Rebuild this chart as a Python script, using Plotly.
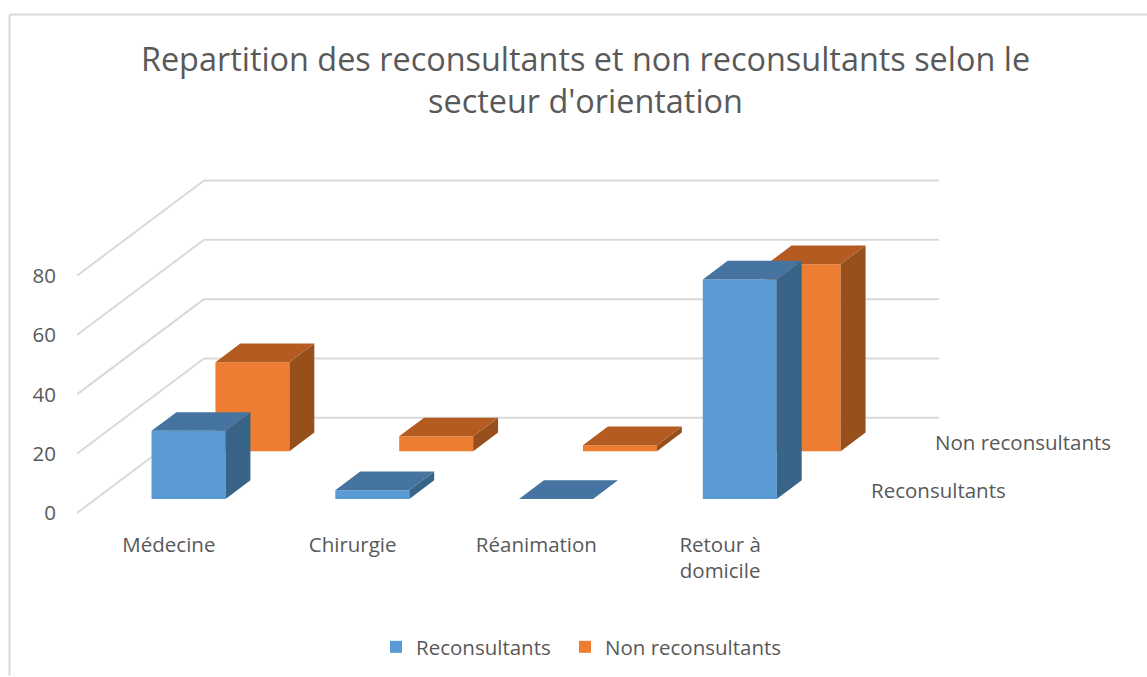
import plotly.graph_objects as go

# --- data ---
categories = ["Médecine", "Chirurgie", "Réanimation", "Retour à<br>domicile"]
reconsultants = [23, 3, 0, 74]
non_reconsultants = [30, 5, 2, 63]
value_ticks = [0, 20, 40, 60, 80]
series_names = ["Reconsultants", "Non reconsultants"]
title_text = "Repartition des reconsultants et non reconsultants selon le<br>secteur d'orientation"

# --- oblique 3D projection expressed in axis units ---
W, H = 1147, 677
L, R, T, B = 77, 960, 170, 525          # plot area in pixels
ZERO_PX = 514                            # pixel row of value 0 on the front edge
PX_CAT = 183.75                          # pixels per category
PX_VAL = 2.975                           # pixels per value unit
DEPTH_X = 127 / PX_CAT                   # full floor depth in category units
DEPTH_Y = 95.5 / PX_VAL                  # full floor depth in value units
BAR_W = 74 / PX_CAT
BAR_D = 0.196                            # bar depth as a fraction of floor depth
BAR_NUDGE = 1 / PX_CAT
ROW_FRONT = {"blue": 0.147, "orange": 0.65}
X0 = -0.5
X1 = 3.5
FONT = "Open Sans"
TXT = "#595959"
GRID = "#D9D9D9"
BLUE = ("#5B9BD5", "#386488", "#44749F")
ORANGE = ("#ED7D31", "#974F1C", "#B35B20")
LABEL_SIZE = 20.5

cat_idx = list(range(len(categories)))


def project(x, d, v):
    return x + d * DEPTH_X, v + d * DEPTH_Y


def polys(values, front, face):
    xs, ys = [], []
    for i, v in zip(cat_idx, values):
        a, b = i + BAR_NUDGE - BAR_W / 2, i + BAR_NUDGE + BAR_W / 2
        d0, d1 = front, front + BAR_D
        if face == "side":
            corners = [(b, d0, 0), (b, d1, 0), (b, d1, v), (b, d0, v)]
        else:
            corners = [(a, d0, v), (b, d0, v), (b, d1, v), (a, d1, v)]
        for x, d, val in corners + corners[:1]:
            px, py = project(x, d, val)
            xs.append(px)
            ys.append(py)
        xs.append(None)
        ys.append(None)
    return xs, ys


fig = go.Figure()

for name, values, colors, key, leg in [
    (series_names[1], non_reconsultants, ORANGE, "orange", "legend2"),
    (series_names[0], reconsultants, BLUE, "blue", "legend"),
]:
    front = ROW_FRONT[key]
    fig.add_trace(go.Bar(
        x=[i + BAR_NUDGE + front * DEPTH_X for i in cat_idx],
        y=values,
        base=[front * DEPTH_Y] * len(values),
        width=BAR_W,
        name=name,
        legend=leg,
        showlegend=True,
        marker=dict(color=colors[0], line=dict(width=0)),
        hoverinfo="skip",
    ))

for values, colors, key in [
    (non_reconsultants, ORANGE, "orange"),
    (reconsultants, BLUE, "blue"),
]:
    for face, col in [("side", colors[1]), ("top", colors[2])]:
        xs, ys = polys(values, ROW_FRONT[key], face)
        fig.add_trace(go.Scatter(
            x=xs, y=ys, mode="lines", fill="toself", fillcolor=col,
            line=dict(width=0, color=col), showlegend=False, hoverinfo="skip",
        ))

# gridlines on the side and back walls
shapes = []
for v in value_ticks:
    bx, by = project(X0, 1, v)
    ex, _ = project(X1, 1, v)
    line = dict(color=GRID, width=2)
    shapes.append(dict(type="line", xref="x", yref="y", x0=X0, y0=v, x1=bx, y1=by,
                       line=line, layer="below"))
    shapes.append(dict(type="line", xref="x", yref="y", x0=bx, y0=by, x1=ex, y1=by,
                       line=line, layer="below"))

# outer chart frame, open on the right and at the bottom
pw, ph = R - L, B - T
fx = (9.5 - L) / pw
fy = (B - 14) / ph
fr = (W - L) / pw
fb = (B - H) / ph
for x0, y0, x1, y1 in [(fx, fy, fr, fy), (fx, fy, fx, fb)]:
    shapes.append(dict(type="line", xref="paper", yref="paper", x0=x0, y0=y0, x1=x1, y1=y1,
                       line=dict(color=GRID, width=2), layer="below"))

# depth-axis labels
annotations = []
for name, key in [(series_names[0], "blue"), (series_names[1], "orange")]:
    d = ROW_FRONT[key] + BAR_D / 2
    x, y = project(X1 + 26 / PX_CAT, d, 0)
    annotations.append(dict(x=x, y=y, xref="x", yref="y", text=name, showarrow=False,
                            xanchor="left", yanchor="middle",
                            font=dict(family=FONT, size=LABEL_SIZE, color=TXT)))

legend_common = dict(orientation="h", xanchor="left", y=(B - 647) / ph, yanchor="middle",
                     font=dict(family=FONT, size=LABEL_SIZE, color=TXT),
                     bgcolor="rgba(0,0,0,0)")

fig.update_layout(
    width=W, height=H,
    margin=dict(l=L, r=W - R, t=T, b=H - B, pad=0),
    paper_bgcolor="white", plot_bgcolor="white",
    barmode="overlay",
    font=dict(family=FONT, color=TXT, size=LABEL_SIZE),
    title=dict(text=title_text, font=dict(family=FONT, size=32.4, color=TXT),
               x=585.5 / W, xanchor="center", xref="container",
               y=1 - 71 / H, yref="container", yanchor="middle"),
    xaxis=dict(range=[X0, X0 + pw / PX_CAT], tickvals=cat_idx, ticktext=categories,
               showgrid=False, zeroline=False, showline=False,
               ticks="outside", ticklen=2, tickcolor="rgba(0,0,0,0)"),
    yaxis=dict(range=[-(B - ZERO_PX) / PX_VAL, (ZERO_PX - T) / PX_VAL], tickvals=value_ticks,
               showgrid=False, zeroline=False, showline=False,
               ticks="outside", ticklen=16, tickcolor="rgba(0,0,0,0)"),
    legend=dict(x=(376 - L) / pw, **legend_common),
    legend2=dict(x=(565 - L) / pw, **legend_common),
    shapes=shapes,
    annotations=annotations,
)

fig.write_html("out.html", config={"displayModeBar": False},
               post_script="document.body.style.margin='0';")
